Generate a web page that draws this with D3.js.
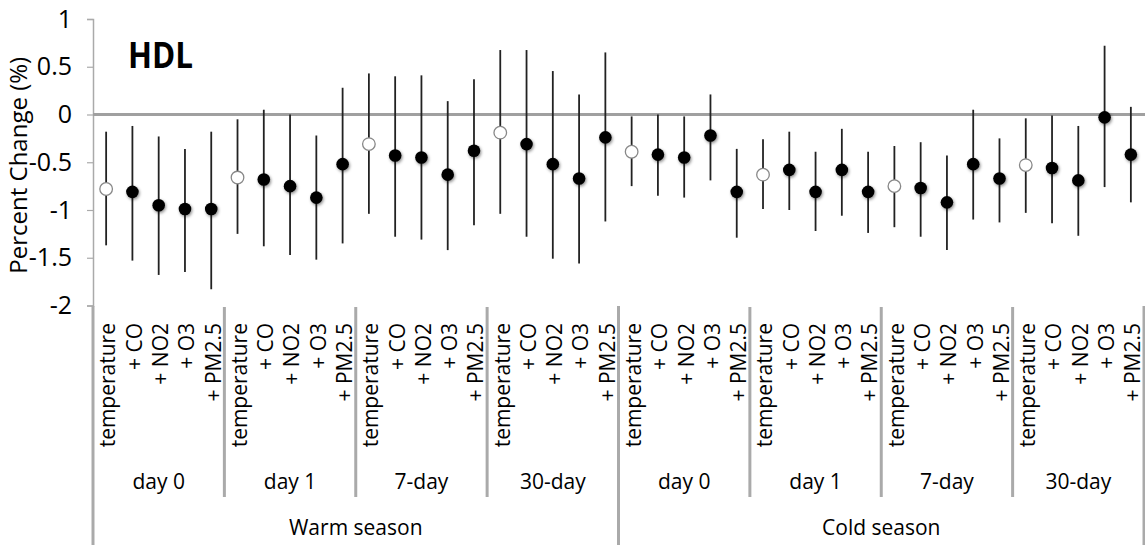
<!DOCTYPE html>
<html><head><meta charset="utf-8">
<script src="https://cdn.jsdelivr.net/npm/d3@7"></script>
<style>
body{margin:0;background:#fff;}
text{font-family:"Open Sans",sans-serif;fill:#000;}
</style></head>
<body><svg id="c" width="1145" height="549"></svg>
<script>
const seasons = ["Warm season", "Cold season"];
const windows = ["day 0", "day 1", "7-day", "30-day"];
const models = ["temperature", "+ CO", "+ NO2", "+ O3", "+ PM2.5"];
const yTicks = [1, 0.5, 0, -0.5, -1, -1.5, -2];
const yTickLabels = ["1", "0.5", "0", "-0.5", "-1", "-1.5", "-2"];
// estimates, lower and upper limits in order: season > window > model
const estimate = [
  -0.78, -0.81, -0.95, -0.99, -0.99,
  -0.66, -0.68, -0.75, -0.87, -0.52,
  -0.31, -0.43, -0.45, -0.63, -0.38,
  -0.19, -0.31, -0.52, -0.67, -0.24,
  -0.39, -0.42, -0.45, -0.22, -0.81,
  -0.63, -0.58, -0.81, -0.58, -0.81,
  -0.75, -0.77, -0.92, -0.52, -0.67,
  -0.53, -0.56, -0.69, -0.03, -0.42
];
const lower = [
  -1.37, -1.53, -1.68, -1.65, -1.83,
  -1.25, -1.38, -1.47, -1.52, -1.35,
  -1.04, -1.28, -1.31, -1.42, -1.16,
  -1.04, -1.28, -1.51, -1.56, -1.12,
  -0.75, -0.85, -0.87, -0.69, -1.29,
  -0.99, -1.00, -1.22, -1.06, -1.24,
  -1.18, -1.28, -1.42, -1.10, -1.13,
  -1.03, -1.14, -1.27, -0.76, -0.92
];
const upper = [
  -0.18, -0.12, -0.23, -0.36, -0.18,
  -0.05, 0.05, 0.00, -0.22, 0.28,
  0.43, 0.40, 0.41, 0.14, 0.37,
  0.675, 0.675, 0.455, 0.21, 0.65,
  -0.02, 0.00, -0.02, 0.21, -0.36,
  -0.26, -0.18, -0.39, -0.15, -0.39,
  -0.33, -0.29, -0.43, 0.05, -0.25,
  -0.04, -0.01, -0.12, 0.72, 0.08
];

(function () {
const rows = [];
seasons.forEach((s, si) => windows.forEach((w, wi) => models.forEach((m, mi) => {
  const i = rows.length;
  rows.push({i, season: s, win: w, model: m, est: estimate[i], lo: lower[i], hi: upper[i]});
})));

const svg = d3.select("#c");
const pl = 93, pr = 1144, pt = 19, pb = 305.5;
const x = d3.scaleBand().domain(rows.map(d => d.i)).range([pl, pr]).padding(0);
const y = d3.scaleLinear().domain([-2, 1]).range([pb, pt]);

const defs = svg.append("defs");
const f = defs.append("filter").attr("id", "sh").attr("x", "-50%").attr("y", "-50%").attr("width", "200%").attr("height", "200%");
f.append("feDropShadow").attr("dx", 1).attr("dy", 1.5).attr("stdDeviation", 1.6).attr("flood-color", "#000").attr("flood-opacity", 0.45);

// y axis
const yAxis = d3.axisLeft(y).tickValues(yTicks).tickFormat((d, i) => yTickLabels[i]).tickSize(6).tickPadding(15);
const ga = svg.append("g").attr("transform", `translate(${pl},0)`).call(yAxis);
ga.select(".domain").attr("stroke", "#aaa").attr("stroke-width", 1.5);
ga.selectAll(".tick line").attr("stroke", "#aaa").attr("stroke-width", 1.2);
ga.selectAll(".tick text").style("font-size", "25px").style("font-family", "'Open Sans',sans-serif").attr("fill", "#000");

// zero line
svg.append("line").attr("x1", pl).attr("x2", 1145).attr("y1", y(0)).attr("y2", y(0))
  .attr("stroke", "#a0a0a0").attr("stroke-width", 3);

// y title
svg.append("text").attr("transform", `translate(27,${(pt + pb) / 2 + 3}) rotate(-90)`)
  .attr("text-anchor", "middle").style("font-size", "24px").text("Percent Change (%)");

// HDL label
svg.append("text").attr("x", 128).attr("y", 68).attr("textLength", 65).attr("lengthAdjust", "spacingAndGlyphs")
  .style("font-size", "36px").style("font-weight", "bold").text("HDL");

// error bars
svg.append("g").selectAll("line").data(rows).join("line")
  .attr("x1", d => x(d.i) + x.bandwidth() / 2).attr("x2", d => x(d.i) + x.bandwidth() / 2)
  .attr("y1", d => y(d.hi)).attr("y2", d => y(d.lo))
  .attr("stroke", "#222").attr("stroke-width", 1.8);

// markers
svg.append("g").selectAll("circle").data(rows).join("circle")
  .attr("cx", d => x(d.i) + x.bandwidth() / 2).attr("cy", d => y(d.est)).attr("r", 6.3)
  .attr("fill", d => d.model === "temperature" ? "#fff" : "#000")
  .attr("stroke", d => d.model === "temperature" ? "#888" : "#000")
  .attr("stroke-width", d => d.model === "temperature" ? 1.3 : 0)
  .attr("filter", d => d.model === "temperature" ? null : "url(#sh)");

// category labels
svg.append("g").selectAll("text").data(rows).join("text")
  .attr("transform", d => `translate(${x(d.i) + x.bandwidth() / 2 + 2},323) rotate(-90)`)
  .attr("text-anchor", "end").attr("dy", "0.35em").style("font-size", "21px").text(d => d.model);

// group separators
const nG = seasons.length * windows.length;
const gw = (pr - pl) / nG;
const seps = d3.range(1, nG).filter(k => k % windows.length !== 0);
svg.append("g").selectAll("line").data(seps).join("line")
  .attr("x1", k => x(k * models.length)).attr("x2", k => x(k * models.length))
  .attr("y1", 307).attr("y2", 497).attr("stroke", "#aaa").attr("stroke-width", 3);

// season separators
const sseps = d3.range(0, seasons.length + 1).map(k => k * windows.length * models.length);
svg.append("g").selectAll("line").data(sseps).join("line")
  .attr("x1", k => k < rows.length ? x(k) : pr).attr("x2", k => k < rows.length ? x(k) : pr)
  .attr("y1", 306).attr("y2", 545).attr("stroke", "#aaa").attr("stroke-width", 3);

// window labels
const wl = [];
seasons.forEach((s, si) => windows.forEach((w, wi) => wl.push({w, g: si * windows.length + wi})));
svg.append("g").selectAll("text").data(wl).join("text")
  .attr("x", d => pl + gw * (d.g + 0.5)).attr("y", 489).attr("text-anchor", "middle")
  .style("font-size", "21px").text(d => d.w);

// season labels
svg.append("g").selectAll("text").data(seasons).join("text")
  .attr("x", (d, i) => pl + gw * windows.length * (i + 0.5)).attr("y", 535).attr("text-anchor", "middle")
  .style("font-size", "21px").text(d => d);
})();
</script></body></html>
